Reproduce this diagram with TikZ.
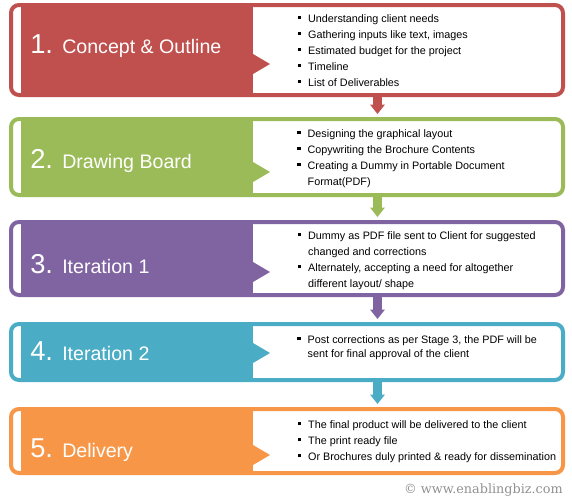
\documentclass[tikz,border=0pt]{standalone}
\usepackage{fontspec}
\setmainfont{Liberation Sans}
\newfontfamily\wmfont{DejaVu Serif}
\usetikzlibrary{arrows.meta}
\definecolor{cred}{HTML}{C0504D}
\definecolor{cgreen}{HTML}{9BBB59}
\definecolor{cpurple}{HTML}{8064A2}
\definecolor{cblue}{HTML}{4BACC6}
\definecolor{corange}{HTML}{F79646}
\definecolor{cwm}{HTML}{909090}
\newcommand\sqb{\raisebox{2.2pt}{\rule{2.6pt}{2.6pt}}}
\tikzset{
  x=0.75pt, y=-0.75pt,
  frame/.style={draw, line width=3pt, rounded corners=6pt, inner sep=0pt,
    minimum width=414pt, fill=white},
  numtxt/.style={anchor=base west, inner sep=0pt, text=white,
    font=\fontsize{20.5}{22}\selectfont},
  ttltxt/.style={anchor=base west, inner sep=0pt, text=white,
    font=\fontsize{14.7}{17}\selectfont},
  bullets/.style={anchor=base west, inner sep=0pt,
    font=\fontsize{8.1}{12}\selectfont},
  conn/.style={draw=#1, line width=6.5pt,
    -{Triangle[width=10.5pt,length=7pt]}, shorten >=2.2pt},
}
\newcommand\stage[5]{%
  \node[frame, draw=#2, minimum height={(#4-#3-4)*0.75pt}] (s#1) at (287,{(#3+#4)/2}) {};
  \fill[#2] (21,#3) rectangle (253,#4);
  \fill[#2] (253,{#5-10}) -- (270,#5) -- (253,{#5+10}) -- cycle;
}
\begin{document}
\begin{tikzpicture}
\useasboundingbox (0,0) rectangle (572,504);
\coordinate (ax) at (377.5,0);
\stage{1}{cred}{3}{97}{64}
\stage{2}{cgreen}{117}{197}{172}
\stage{3}{cpurple}{220}{297}{272}
\stage{4}{cblue}{322}{382}{353}
\stage{5}{corange}{407}{475}{455}

\node[numtxt] (n1) at (30,53) {1.};
\node[ttltxt] (t1) at (62,53) {Concept \& Outline};
\node[numtxt] (n2) at (30,168) {2.};
\node[ttltxt] (t2) at (62,168) {Drawing Board};
\node[numtxt] (n3) at (30,273) {3.};
\node[ttltxt] (t3) at (62,273) {Iteration 1};
\node[numtxt] (n4) at (30,360) {4.};
\node[ttltxt] (t4) at (62,360) {Iteration 2};
\node[numtxt] (n5) at (30,457) {5.};
\node[ttltxt] (t5) at (62,457) {Delivery};

\node[bullets] (l1) at (297.5,22) {\begin{tabular}[t]{@{}l@{\hspace{5.2pt}}l@{}}
\sqb & Understanding client needs\\
\sqb & Gathering inputs like text, images\\
\sqb & Estimated budget for the project\\
\sqb & Timeline\\
\sqb & List of Deliverables
\end{tabular}};
\node[bullets] (l2) at (297,137) {\begin{tabular}[t]{@{}l@{\hspace{5.2pt}}l@{}}
\sqb & Designing the graphical layout\\
\sqb & Copywriting the Brochure Contents\\
\sqb & Creating a Dummy in Portable Document\\
 & Format(PDF)
\end{tabular}};
\node[bullets] (l3) at (297.5,239) {\begin{tabular}[t]{@{}l@{\hspace{5.2pt}}l@{}}
\sqb & Dummy as PDF file sent to Client for suggested\\
 & changed and corrections\\
\sqb & Alternately, accepting a need for altogether\\
 & different layout/ shape
\end{tabular}};
\node[bullets, font=\fontsize{8.1}{10.5}\selectfont] (l4) at (297,343) {\begin{tabular}[t]{@{}l@{\hspace{5.2pt}}l@{}}
\sqb & Post corrections as per Stage 3, the PDF will be\\
 & sent for final approval of the client
\end{tabular}};
\node[bullets] (l5) at (297.5,428) {\begin{tabular}[t]{@{}l@{\hspace{5.2pt}}l@{}}
\sqb & The final product will be delivered to the client\\
\sqb & The print ready file\\
\sqb & Or Brochures duly printed \& ready for dissemination
\end{tabular}};

\draw[conn=cred] (s1.south -| ax) -- (s2.north -| ax);
\draw[conn=cgreen] (s2.south -| ax) -- (s3.north -| ax);
\draw[conn=cpurple] (s3.south -| ax) -- (s4.north -| ax);
\draw[conn=cblue] (s4.south -| ax) -- (s5.north -| ax);

\node[anchor=base east, inner sep=0pt, text=cwm, font=\wmfont\fontsize{9.6}{11}\selectfont] (wm) at (563,493) {© www.enablingbiz.com};
\end{tikzpicture}
\end{document}
